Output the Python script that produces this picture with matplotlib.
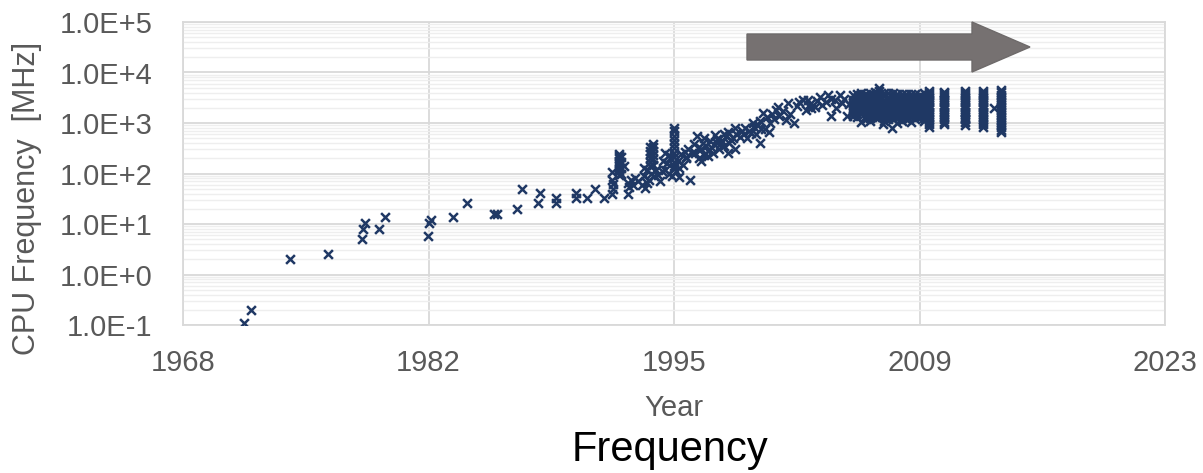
import matplotlib
matplotlib.use("Agg")
import matplotlib.pyplot as plt
from matplotlib.patches import Polygon
from matplotlib.ticker import LogLocator, FixedLocator, NullFormatter

plt.rcParams['font.family'] = ['Liberation Sans', 'DejaVu Sans']

# ---------------- data ----------------
# early, sparse era
early_years = [1971.4, 1971.8, 1974.0, 1976.1, 1978.0, 1978.1, 1978.2, 1979.0, 1979.3,
               1981.7, 1981.8, 1981.9, 1983.1, 1983.9, 1985.4, 1985.6, 1986.7, 1987.0,
               1987.9, 1988.0, 1988.9, 1988.9, 1990.0, 1990.0, 1990.6, 1991.1, 1991.6]
early_mhz = [0.11, 0.2, 2.0, 2.5, 5.0, 8.0, 10.4, 8.0, 14,
             5.8, 10.4, 12, 14, 26, 16, 16, 19.5, 50,
             26, 41, 26, 33, 33, 41, 33, 50, 33]

# growth era 1992-2005
growth_years = [
    1992.0, 1992.1, 1992.1, 1992.0, 1992.0,
    1992.4, 1992.4, 1992.4, 1992.4, 1992.4, 1992.4, 1992.4, 1992.4, 1992.4,
    1992.55, 1992.55, 1992.55, 1992.55,
    1992.9, 1992.9, 1993.0, 1993.3, 1993.1,
    1993.7, 1993.8, 1993.9, 1994.0, 1994.1, 1994.2, 1994.3, 1993.8, 1994.0,
    1994.15, 1994.15, 1994.15, 1994.15, 1994.15, 1994.15,
    1994.35, 1994.35, 1994.35, 1994.35, 1994.35, 1994.35,
    1994.7, 1994.8, 1994.6,
    1995.0, 1995.1, 1995.2, 1995.3, 1995.5, 1995.7, 1995.9, 1996.0, 1996.1, 1996.2,
    1995.0, 1994.9, 1995.4, 1995.6,
    1995.5, 1995.5, 1995.5, 1995.5, 1995.5, 1995.5, 1995.5, 1995.5, 1995.5, 1995.5,
    1995.8, 1996.4, 1996.2,
    1996.8, 1996.7, 1996.9, 1997.0, 1997.1, 1997.2, 1997.3, 1997.4, 1997.5, 1997.6,
    1997.7, 1997.8, 1997.9, 1998.0, 1997.0, 1996.9,
    1998.2, 1998.3, 1998.4, 1998.5, 1998.5, 1998.6, 1998.8, 1998.9, 1999.0, 1998.7,
    1999.4, 1999.5, 1999.6, 1999.7, 1999.9, 2000.0, 2000.1, 2000.3, 2000.3, 2000.5,
    2000.6, 2000.7, 2000.9, 2001.0, 2001.2, 2001.3, 2001.4, 2000.8,
    2001.9, 2001.8, 2002.2, 2002.7, 2002.9, 2003.1, 2003.4, 2003.7, 2004.1, 2004.3,
    2004.5, 2004.8, 2004.9, 2005.2, 2005.0, 2002.4, 2003.0, 2004.0, 2004.6,
    # extra marks filling the band
    1995.2, 1995.8, 1996.3, 1996.5, 1996.6, 1997.2, 1997.4, 1997.9, 1998.1, 1998.3,
    1998.9, 1999.2, 1999.3, 1999.8, 2000.2, 2000.4, 2001.1, 2001.6, 2002.0, 2002.5,
    2003.2, 2003.5, 2003.8, 2004.3, 2005.3, 1993.5, 1993.2, 1994.5, 1994.4, 1992.7,
]
growth_mhz = [
    39, 49, 62, 76, 105,
    95, 110, 125, 140, 160, 180, 200, 220, 240,
    100, 130, 170, 210,
    39, 66, 55, 83, 75,
    60, 90, 52, 120, 75, 100, 150, 130, 65,
    140, 170, 200, 240, 280, 330,
    150, 190, 230, 280, 330, 380,
    70, 110, 95,
    120, 160, 100, 200, 130, 180, 240, 150, 270, 200,
    250, 180, 90, 110,
    140, 170, 210, 260, 320, 390, 470, 560, 680, 810,
    87, 76, 210,
    560, 250, 200, 300, 400, 230, 350, 280, 450, 330,
    250, 590, 400, 300, 180, 330,
    450, 350, 550, 650, 260, 400, 500, 300, 600, 470,
    600, 800, 500, 700, 1000, 850, 600, 410, 1100, 1600,
    750, 1300, 1000, 1500, 1800, 2100, 1400, 650,
    2500, 1170, 1000, 2900, 1850, 2400, 2100, 3200, 3650, 1350,
    2800, 3650, 2500, 1350, 3000, 2200, 2800, 2600, 2000,
    # extra marks filling the band
    230, 130, 300, 250, 380, 500, 220, 480, 380, 600,
    800, 520, 700, 620, 900, 750, 1200, 1700, 1500, 2600,
    2000, 2700, 2300, 3000, 2400, 70, 60, 120, 90, 140,
]

# plateau era 2005.5-2010 (dense block)
plateau_years = (
    [2005.5] * 8 + [2005.75] * 9 + [2006.0] * 10 + [2006.25] * 10 + [2006.5] * 11 +
    [2006.75] * 11 + [2007.0] * 12 + [2007.25] * 11 + [2007.5] * 10 + [2007.75] * 10 +
    [2008.0] * 10 + [2008.25] * 11 + [2008.5] * 10 + [2008.75] * 10 + [2009.0] * 10 +
    [2009.25] * 9 + [2009.5] * 11 +
    [2006.0, 2007.2, 2007.7, 2008.0, 2008.8]
)
plateau_mhz = (
    [1400, 1600, 1800, 2000, 2260, 2530, 2830, 3600] +
    [1300, 1500, 1700, 1900, 2130, 2400, 2830, 3160, 3800] +
    [1500, 1650, 1800, 2000, 2260, 2530, 2830, 3160, 3500, 4000] +
    [1200, 1400, 1600, 1800, 2000, 2260, 2530, 2830, 3160, 3800] +
    [1100, 1250, 1400, 1600, 1800, 2000, 2260, 2530, 2830, 3500, 4000] +
    [1300, 1450, 1600, 1800, 2000, 2260, 2530, 2830, 3160, 3600, 4200] +
    [1300, 1450, 1600, 1800, 2000, 2260, 2530, 2830, 3160, 3800, 4400, 5000] +
    [1100, 1250, 1400, 1600, 1800, 2000, 2260, 2530, 2830, 3400, 4000] +
    [1200, 1400, 1600, 1800, 2000, 2260, 2530, 2830, 3300, 3900] +
    [1200, 1400, 1600, 1800, 2000, 2260, 2530, 2830, 3300, 3900] +
    [1300, 1450, 1600, 1800, 2000, 2260, 2530, 2830, 3160, 3800] +
    [1100, 1250, 1400, 1600, 1800, 2000, 2260, 2530, 2830, 3160, 3800] +
    [1200, 1400, 1600, 1800, 2000, 2260, 2530, 2830, 3300, 3800] +
    [1300, 1450, 1600, 1800, 2000, 2260, 2530, 2830, 3300, 3800] +
    [1200, 1400, 1600, 1800, 2000, 2260, 2530, 2830, 3300, 3800] +
    [1300, 1500, 1700, 1900, 2130, 2400, 2700, 3100, 3600] +
    [1100, 1250, 1400, 1600, 1800, 2000, 2260, 2530, 2830, 3300, 4000] +
    [1050, 950, 810, 1000, 1050]
)

# later product years: tall columns of SKUs
bar_a_year, bar_a_mhz = 2009.8, [850, 950, 1060, 1200, 1330, 1500, 1660, 1860, 2060, 2300, 2560, 2860, 3200, 3560, 4000, 4300]
bar_b_year, bar_b_mhz = 2010.6, [950, 1060, 1200, 1330, 1500, 1660, 1860, 2060, 2300, 2560, 2860, 3200, 3560, 3900, 4150]
bar_c_year, bar_c_mhz = 2011.8, [930, 1060, 1200, 1330, 1500, 1660, 1860, 2060, 2300, 2560, 2860, 3200, 3560, 4000, 4400]
bar_d_year, bar_d_mhz = 2012.8, [850, 950, 1060, 1200, 1330, 1500, 1660, 1860, 2060, 2300, 2560, 2860, 3200, 3560, 4000, 4400]
bar_e_year, bar_e_mhz = 2013.8, [650, 730, 820, 920, 1030, 1150, 1300, 1450, 1630, 1830, 2050, 2300, 2580, 2900, 3250, 3650, 4100, 4500]
extra_years = [2013.4, 2011.8]
extra_mhz = [2000, 1200]

x_ticks = [1968, 1981.75, 1995.5, 2009.25, 2023]
x_tick_labels = ['1968', '1982', '1995', '2009', '2023']
y_ticks = [1e-1, 1e0, 1e1, 1e2, 1e3, 1e4, 1e5]
y_tick_labels = ['1.0E-1', '1.0E+0', '1.0E+1', '1.0E+2', '1.0E+3', '1.0E+4', '1.0E+5']

# ---------------- figure ----------------
W, H = 1203, 473
fig = plt.figure(figsize=(W / 100, H / 100), dpi=100)
ax = fig.add_axes([183 / W, 1 - 325 / H, (1165 - 183) / W, (325 - 22) / H])

ax.set_yscale('log')
ax.set_xlim(1968, 2023)
ax.set_ylim(0.1, 1e5)

ax.yaxis.set_major_locator(FixedLocator(y_ticks))
ax.set_yticklabels(y_tick_labels)
ax.yaxis.set_minor_locator(LogLocator(base=10, subs=range(2, 10), numticks=100))
ax.yaxis.set_minor_formatter(NullFormatter())
ax.set_xticks(x_ticks)
ax.set_xticklabels(x_tick_labels)

ax.grid(which='major', axis='both', color='#D9D9D9', lw=1.3, zorder=0)
ax.grid(which='minor', axis='y', color='#EEEEEE', lw=1.0, zorder=0)
ax.set_axisbelow(True)
for s in ax.spines.values():
    s.set_color('#D9D9D9')
    s.set_linewidth(1.3)
ax.tick_params(which='both', length=0)
ax.tick_params(axis='x', labelsize=21, labelcolor='#595959', pad=17)
ax.tick_params(axis='y', labelsize=21, labelcolor='#595959', pad=22)

mk = dict(marker='x', s=40, linewidths=1.8, color='#1F3864', zorder=3)
ax.scatter(early_years, early_mhz, **mk)
ax.scatter(growth_years, growth_mhz, **mk)
ax.scatter(plateau_years, plateau_mhz, **mk)
for yr, vals in [(bar_a_year, bar_a_mhz), (bar_b_year, bar_b_mhz), (bar_c_year, bar_c_mhz),
                 (bar_d_year, bar_d_mhz), (bar_e_year, bar_e_mhz)]:
    ax.scatter([yr] * len(vals), vals, **mk)
ax.scatter(extra_years, extra_mhz, **mk)

# arrow annotation (figure pixels)
pts = [(747, 34), (972, 34), (972, 22), (1030, 47), (972, 72), (972, 60), (747, 60)]
arrow = Polygon([(x / W, 1 - y / H) for x, y in pts], closed=True, transform=fig.transFigure,
                facecolor='#767171', edgecolor='#6E6A6A', lw=1.0, zorder=5)
fig.patches.append(arrow)

fig.text(27 / W, 1 - 198 / H, 'CPU Frequency  [MHz]', rotation=90, ha='center', va='center',
         fontsize=22, color='#595959')
fig.text(674 / W, 1 - 408 / H, 'Year', ha='center', va='center', fontsize=21, color='#595959')
fig.text(670 / W, 1 - 450 / H, 'Frequency', ha='center', va='center', fontsize=30, color='black')

fig.savefig('out.png', dpi=100)
